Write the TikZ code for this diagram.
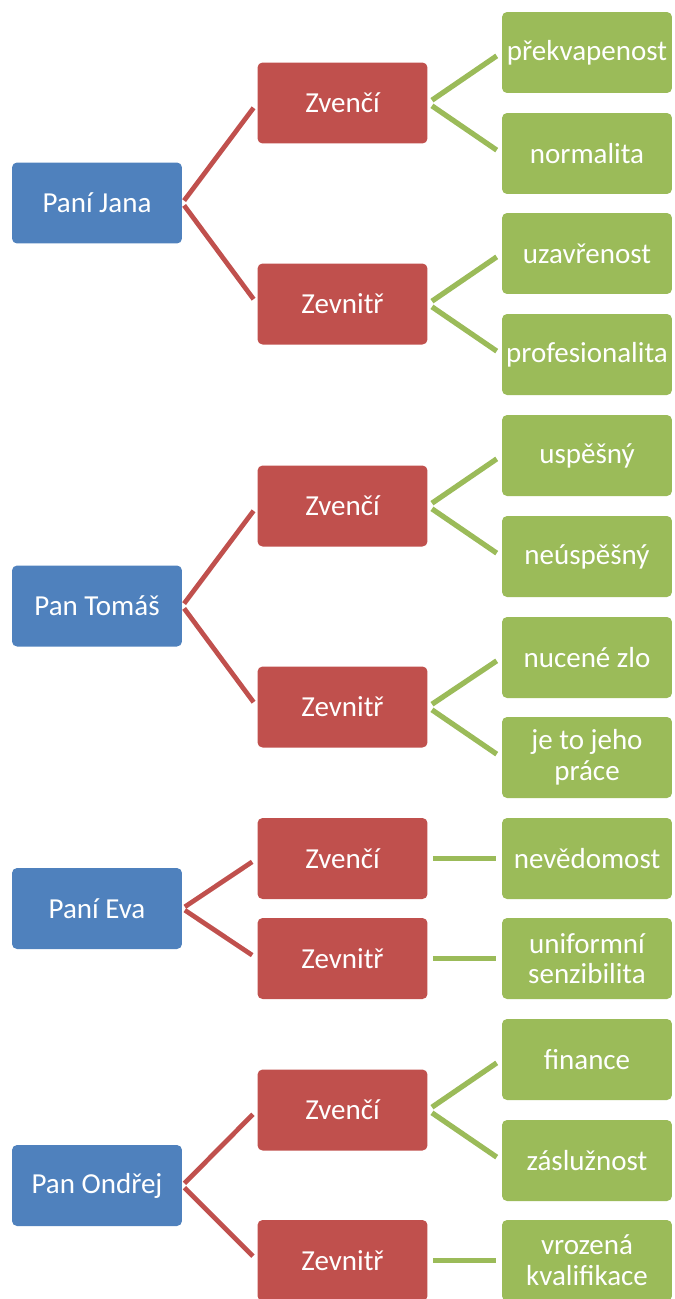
\documentclass[tikz,border=0pt]{standalone}
\usepackage{fontspec}
\setmainfont{Carlito}
\definecolor{osobaBlue}{HTML}{4F81BD}
\definecolor{pohledRed}{HTML}{C0504D}
\definecolor{rysGreen}{HTML}{9BBB59}
\begin{document}
\begin{tikzpicture}[x=0.02cm, y=-0.02cm,
		box/.style={rectangle, rounded corners=0.1cm, minimum width=3.4cm, minimum height=1.62cm, inner sep=1pt, text=white, align=center, font=\fontsize{16.5}{17.5}\selectfont},
		osoba/.style={box, fill=osobaBlue},
		pohled/.style={box, fill=pohledRed},
		rys/.style={box, fill=rysGreen},
		redline/.style={draw=pohledRed, line width=0.095cm, shorten <=0.06cm, shorten >=0.12cm},
		greenline/.style={draw=rysGreen, line width=0.105cm, shorten <=0.1cm, shorten >=0.12cm}]
		\useasboundingbox (0,0) rectangle (675,1299);
		\clip (0,0) rectangle (675,1299);

		% osoby
		\node[osoba] (jana) at (97,203) {Paní Jana};
		\node[osoba] (tomas) at (97,606) {Pan Tomáš};
		\node[osoba] (eva) at (97,908.5) {Paní Eva};
		\node[osoba] (ondrej) at (97,1185.5) {Pan Ondřej};

		% pohledy
		\node[pohled] (jana-ven) at (342.5,103) {Zvenčí};
		\node[pohled] (jana-vnitr) at (342.5,304) {Zevnitř};
		\node[pohled] (tomas-ven) at (342.5,506) {Zvenčí};
		\node[pohled] (tomas-vnitr) at (342.5,707) {Zevnitř};
		\node[pohled] (eva-ven) at (342.5,858.5) {Zvenčí};
		\node[pohled] (eva-vnitr) at (342.5,958.5) {Zevnitř};
		\node[pohled] (ondrej-ven) at (342.5,1110) {Zvenčí};
		\node[pohled] (ondrej-vnitr) at (342.5,1260.5) {Zevnitř};

		% rysy
		\node[rys] (prekvapenost) at (587,52.5) {překvapenost};
		\node[rys] (normalita) at (587,153.5) {normalita};
		\node[rys] (uzavrenost) at (587,253.5) {uzavřenost};
		\node[rys] (profesionalita) at (587,354.5) {profesionalita};
		\node[rys] (uspesny) at (587,455.5) {uspěšný};
		\node[rys] (neuspesny) at (587,556.5) {neúspěšný};
		\node[rys] (zlo) at (587,657.5) {nucené zlo};
		\node[rys] (prace) at (587,757.5) {je to jeho\\práce};
		\node[rys] (nevedomost) at (587,858.5) {nevědomost};
		\node[rys] (senzibilita) at (587,958.5) {uniformní\\senzibilita};
		\node[rys] (finance) at (587,1059.5) {finance};
		\node[rys] (zasluznost) at (587,1160.5) {záslužnost};
		\node[rys] (kvalifikace) at (587,1260.5) {vrozená\\kvalifikace};

		% spojnice
		\draw[redline] (jana.east) -- (jana-ven.west);
		\draw[redline] (jana.east) -- (jana-vnitr.west);
		\draw[redline] (tomas.east) -- (tomas-ven.west);
		\draw[redline] (tomas.east) -- (tomas-vnitr.west);
		\draw[redline] (eva.east) -- (eva-ven.west);
		\draw[redline] (eva.east) -- (eva-vnitr.west);
		\draw[redline] (ondrej.east) -- (ondrej-ven.west);
		\draw[redline] (ondrej.east) -- (ondrej-vnitr.west);

		\draw[greenline] (jana-ven.east) -- (prekvapenost.west);
		\draw[greenline] (jana-ven.east) -- (normalita.west);
		\draw[greenline] (jana-vnitr.east) -- (uzavrenost.west);
		\draw[greenline] (jana-vnitr.east) -- (profesionalita.west);
		\draw[greenline] (tomas-ven.east) -- (uspesny.west);
		\draw[greenline] (tomas-ven.east) -- (neuspesny.west);
		\draw[greenline] (tomas-vnitr.east) -- (zlo.west);
		\draw[greenline] (tomas-vnitr.east) -- (prace.west);
		\draw[greenline] (eva-ven.east) -- (nevedomost.west);
		\draw[greenline] (eva-vnitr.east) -- (senzibilita.west);
		\draw[greenline] (ondrej-ven.east) -- (finance.west);
		\draw[greenline] (ondrej-ven.east) -- (zasluznost.west);
		\draw[greenline] (ondrej-vnitr.east) -- (kvalifikace.west);
	\end{tikzpicture}
\end{document}
